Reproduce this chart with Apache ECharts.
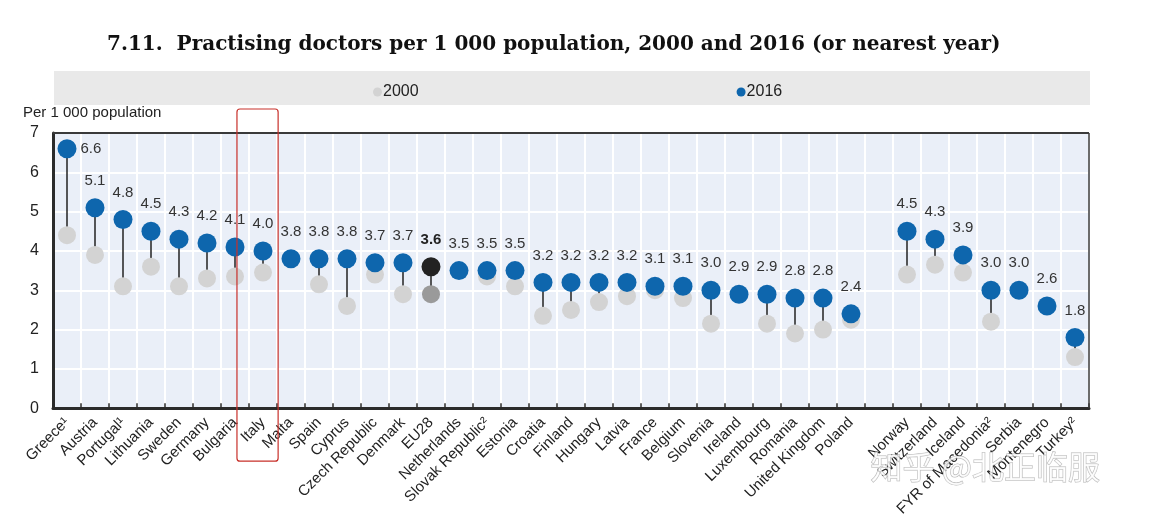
<!DOCTYPE html>
<html>
<head>
<meta charset="utf-8">
<script src="https://cdn.jsdelivr.net/npm/echarts@6/dist/echarts.min.js"></script>
<style>
html,body{margin:0;padding:0;background:#fff;}
#chart{width:1149px;height:519px;}
</style>
</head>
<body>
<div id="chart"></div>
<script>
const categories = ['Greece¹','Austria','Portugal¹','Lithuania','Sweden','Germany','Bulgaria','Italy','Malta','Spain','Cyprus','Czech Republic','Denmark','EU28','Netherlands','Slovak Republic²','Estonia','Croatia','Finland','Hungary','Latvia','France','Belgium','Slovenia','Ireland','Luxembourg','Romania','United Kingdom','Poland','','Norway','Switzerland','Iceland','FYR of Macedonia²','Serbia','Montenegro','Turkey²'];
const values2016 = [6.6,5.1,4.8,4.5,4.3,4.2,4.1,4.0,3.8,3.8,3.8,3.7,3.7,3.6,3.5,3.5,3.5,3.2,3.2,3.2,3.2,3.1,3.1,3.0,2.9,2.9,2.8,2.8,2.4,null,4.5,4.3,3.9,3.0,3.0,2.6,1.8];
const values2000 = [4.4,3.9,3.1,3.6,3.1,3.3,3.35,3.45,null,3.15,2.6,3.4,2.9,2.9,null,3.35,3.1,2.35,2.5,2.7,2.85,3.0,2.8,2.15,null,2.15,1.9,2.0,2.25,null,3.4,3.65,3.45,2.2,null,null,1.3];
const yTicks = [0,1,2,3,4,5,6,7];
const highlight = 'Italy';
const aggregate = 'EU28';

const BLUE = '#0e66ad';
const GREY = '#d3d3d3';
const FONT = "'Liberation Sans', Arial, sans-serif";
const NARROW = "'Liberation Sans Narrow', 'Liberation Sans', Arial, sans-serif";

const chart = echarts.init(document.getElementById('chart'), null, {renderer: 'canvas'});

const connectorData = categories.map((c, i) => [i, values2000[i], values2016[i]]);
const d2000 = values2000.map((v, i) => {
  if (v === null) return '-';
  if (categories[i] === aggregate) return {value: v, itemStyle: {color: '#9a9a9a'}};
  return v;
});
const d2016 = values2016.map((v, i) => {
  if (v === null) return '-';
  const item = {value: v};
  if (categories[i] === aggregate) {
    item.itemStyle = {color: '#222222'};
    item.label = {fontWeight: 'bold', color: '#222'};
  }
  if (i === 0) {
    item.label = Object.assign({}, item.label || {}, {position: 'right', distance: 4});
  }
  return item;
});

const option = {
  animation: false,
  backgroundColor: '#ffffff',
  title: {
    text: '7.11.  Practising doctors per 1 000 population, 2000 and 2016 (or nearest year)',
    left: 102, top: 30,
    textStyle: {fontFamily: "'DejaVu Serif', 'Liberation Serif', serif", fontWeight: 'bold', fontSize: 20, color: '#111'}
  },
  graphic: [
    {type: 'rect', left: 54, top: 71, shape: {width: 1036, height: 34}, style: {fill: '#e9e9e9'}, z: -1},
    {type: 'text', left: 23, top: 105, style: {text: 'Per 1 000 population', font: "15px " + NARROW, fill: '#222'}},
    {type: 'text', left: 870, top: 450, style: {text: '知乎 @北正临服', font: "32px 'Noto Sans CJK SC'", fill: 'rgba(255,255,255,0.75)', stroke: 'rgba(120,120,120,0.55)', lineWidth: 1}, z: 100}
  ],
  legend: {
    data: ['2000', '2016'],
    left: 368, top: 79,
    icon: 'circle', itemWidth: 9, itemHeight: 9, itemGap: 318,
    textStyle: {fontFamily: NARROW, fontSize: 16, color: '#222', padding: [0, 0, 0, -4]}
  },
  grid: {left: 53, right: 60, top: 133, bottom: 110, containLabel: false, show: true, backgroundColor: '#eaeff8', borderWidth: 0},
  xAxis: {
    type: 'category',
    data: categories,
    boundaryGap: true,
    axisLine: {show: true, lineStyle: {color: '#2b2b2b', width: 3}},
    axisTick: {show: true, inside: true, length: 5, lineStyle: {color: '#2b2b2b', width: 1.5}},
    splitLine: {show: true, lineStyle: {color: '#ffffff', width: 2}},
    axisLabel: {rotate: 45, interval: 0, margin: 12, fontFamily: FONT, fontSize: 15, color: '#222'}
  },
  yAxis: {
    type: 'value', min: yTicks[0], max: yTicks[yTicks.length - 1], interval: 1,
    axisLine: {show: true, lineStyle: {color: '#2b2b2b', width: 3}},
    axisTick: {show: false},
    splitLine: {show: true, lineStyle: {color: '#ffffff', width: 2}},
    axisLabel: {fontFamily: FONT, fontSize: 16, color: '#222', margin: 14}
  },
  series: [
    {
      type: 'custom',
      name: 'connector',
      data: connectorData,
      z: 1,
      renderItem: function (params, api) {
        const a = api.value(1), b = api.value(2);
        if (isNaN(a) || isNaN(b) || a === null || b === null) return;
        const p1 = api.coord([api.value(0), a]);
        const p2 = api.coord([api.value(0), b]);
        return {type: 'line', shape: {x1: p1[0], y1: p1[1], x2: p2[0], y2: p2[1]}, style: {stroke: '#222', lineWidth: 1.5}};
      }
    },
    {
      type: 'scatter', name: '2000', data: d2000, symbolSize: 18, z: 2,
      itemStyle: {color: GREY, opacity: 1}
    },
    {
      type: 'scatter', name: '2016', data: d2016, symbolSize: 19, z: 3,
      itemStyle: {color: BLUE, opacity: 1},
      label: {show: true, position: 'top', distance: 10, fontFamily: FONT, fontSize: 15, color: '#333',
        formatter: p => Number(p.value).toFixed(1)}
    }
  ]
};
chart.setOption(option);

// frame lines (top and right) and highlight box derived from axis scale
const idx = categories.indexOf(highlight);
const cx = chart.convertToPixel({xAxisIndex: 0}, idx);
const c0 = chart.convertToPixel({xAxisIndex: 0}, 0);
const c1 = chart.convertToPixel({xAxisIndex: 0}, 1);
const step = c1 - c0;
const yTop = chart.convertToPixel({yAxisIndex: 0}, yTicks[yTicks.length - 1]);
const yBot = chart.convertToPixel({yAxisIndex: 0}, yTicks[0]);
const xLeft = c0 - step / 2;
const xRight = chart.convertToPixel({xAxisIndex: 0}, categories.length - 1) + step / 2;
chart.setOption({
  graphic: option.graphic.concat([
    {type: 'line', shape: {x1: xLeft, y1: yTop, x2: xRight, y2: yTop}, style: {stroke: '#3a3a3a', lineWidth: 2}, z: 50},
    {type: 'line', shape: {x1: xRight, y1: yTop, x2: xRight, y2: yBot}, style: {stroke: '#3a3a3a', lineWidth: 1.5}, z: 50},
    {type: 'rect', shape: {x: cx - step * 0.93, y: yTop - 24, width: step * 1.47, height: (yBot - yTop) + 77, r: 3}, style: {fill: 'none', stroke: '#c8302a', lineWidth: 1.2}, z: 60}
  ])
});
</script>
</body>
</html>
